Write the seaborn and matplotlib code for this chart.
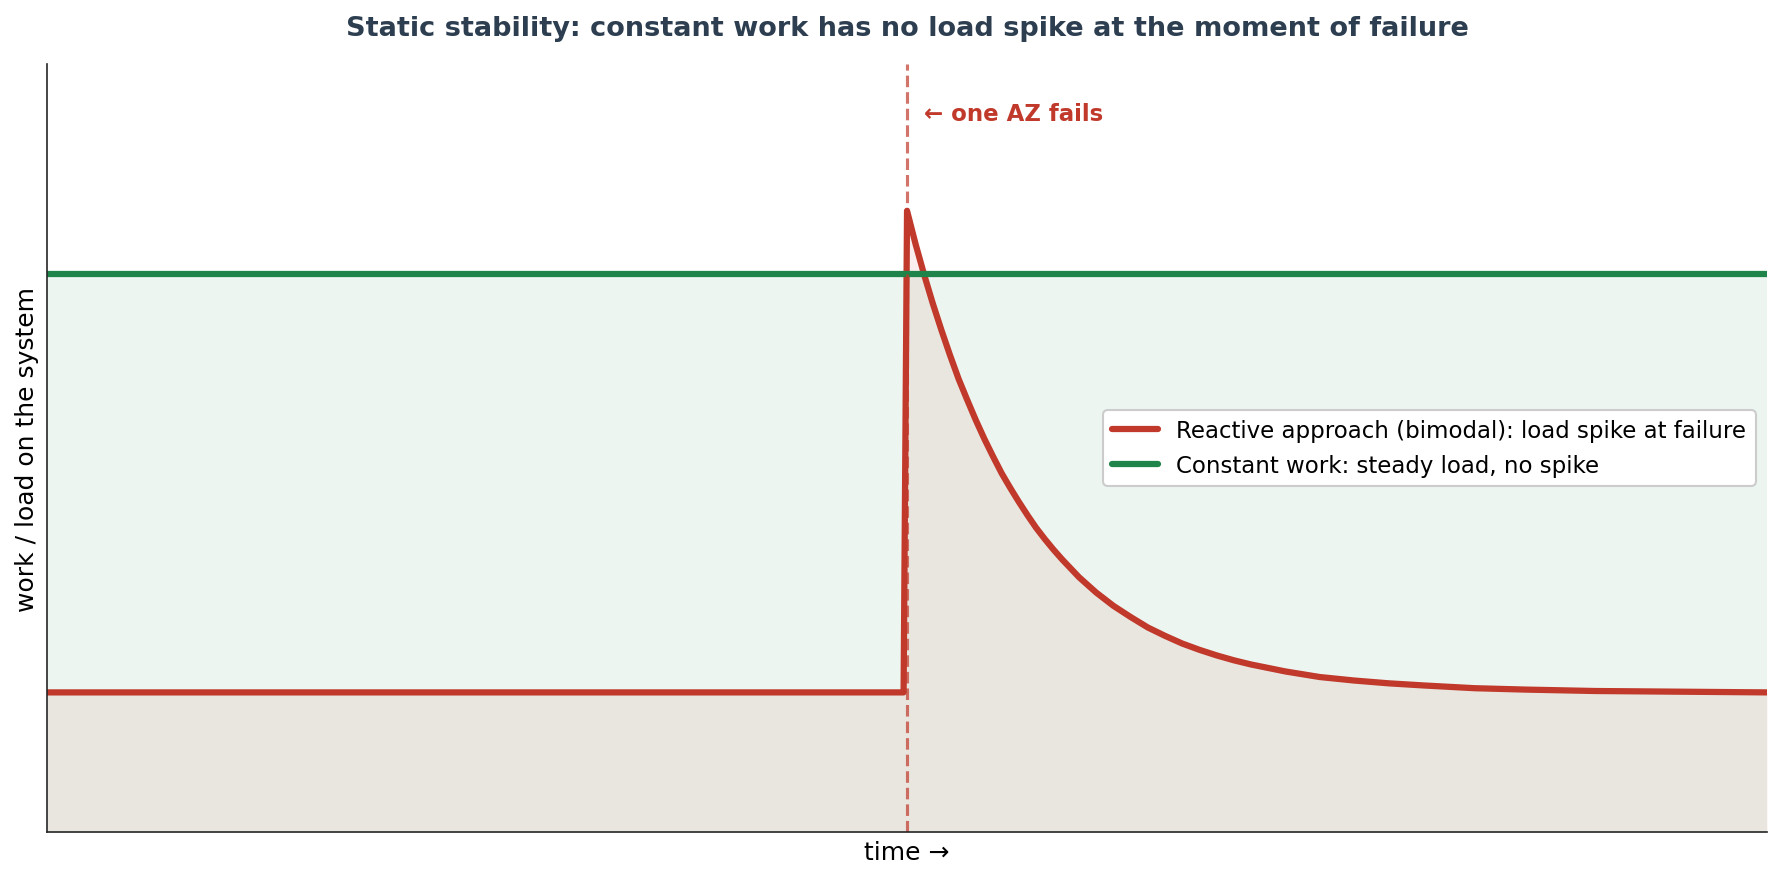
import numpy as np
import pandas as pd
import matplotlib
matplotlib.use("Agg")
import matplotlib.pyplot as plt
import seaborn as sns

# valores (tempo 0-100, falha em t=50)
tempo = [0, 49.8, 50, 50.5, 51, 51.5, 52, 52.5, 53, 53.5, 54, 54.5, 55, 55.5,
         56, 56.5, 57, 57.5, 58, 58.5, 59, 59.5, 60, 61, 62, 63, 64, 65, 66,
         67, 68, 69, 70, 72, 74, 76, 78, 80, 83, 86, 90, 95, 100]
carga_reativa = [0.200, 0.200, 0.890, 0.842, 0.798, 0.757, 0.719, 0.683, 0.649,
                 0.619, 0.590, 0.563, 0.538, 0.514, 0.493, 0.473, 0.454, 0.436,
                 0.420, 0.405, 0.391, 0.378, 0.365, 0.343, 0.324, 0.308, 0.293,
                 0.281, 0.270, 0.261, 0.253, 0.246, 0.240, 0.230, 0.222, 0.217,
                 0.213, 0.210, 0.206, 0.204, 0.202, 0.201, 0.200]
tempo_constante = [0, 100]
carga_constante = [0.80, 0.80]
momento_falha = 50

vermelho = "#c0392b"
verde = "#1e8449"

df_reativo = pd.DataFrame({"tempo": tempo, "carga": carga_reativa})
df_constante = pd.DataFrame({"tempo": tempo_constante, "carga": carga_constante})

sns.set_style("white")
plt.rcParams["font.family"] = ["DejaVu Sans"]
plt.rcParams["text.color"] = "black"
plt.rcParams["axes.labelcolor"] = "black"

fig, ax = plt.subplots(figsize=(11.88, 5.873), dpi=150)
fig.subplots_adjust(left=0.0264, right=0.9916, top=0.926, bottom=0.0545)

# preenchimentos
ax.fill_between(df_constante["tempo"], 0, df_constante["carga"], color=verde, alpha=0.08, linewidth=0)
ax.fill_between(df_reativo["tempo"], 0, df_reativo["carga"], color=vermelho, alpha=0.08, linewidth=0)

sns.lineplot(data=df_reativo, x="tempo", y="carga", ax=ax, color=vermelho, linewidth=3,
             label="Reactive approach (bimodal): load spike at failure", sort=False)
sns.lineplot(data=df_constante, x="tempo", y="carga", ax=ax, color=verde, linewidth=3,
             label="Constant work: steady load, no spike")

ax.axvline(momento_falha, color=vermelho, linestyle="--", linewidth=1.5, alpha=0.7)
ax.text(momento_falha + 1, 1.03, "← one AZ fails", color=vermelho, fontsize=11,
        fontweight="bold", va="center", ha="left")

ax.set_xlim(0, 100)
ax.set_ylim(0, 1.1)
ax.set_xticks([])
ax.set_yticks([])
ax.set_xlabel("time →", fontsize=12)
ax.set_ylabel("work / load on the system", fontsize=12)
ax.set_title("Static stability: constant work has no load spike at the moment of failure",
             fontsize=13, fontweight="bold", color="#2c3e50", pad=14)
leg = ax.legend(loc="center right", fontsize=11, frameon=True, framealpha=1)
for t in leg.get_texts():
    t.set_color("black")
sns.despine(ax=ax)

plt.savefig("out.png", dpi=150)
